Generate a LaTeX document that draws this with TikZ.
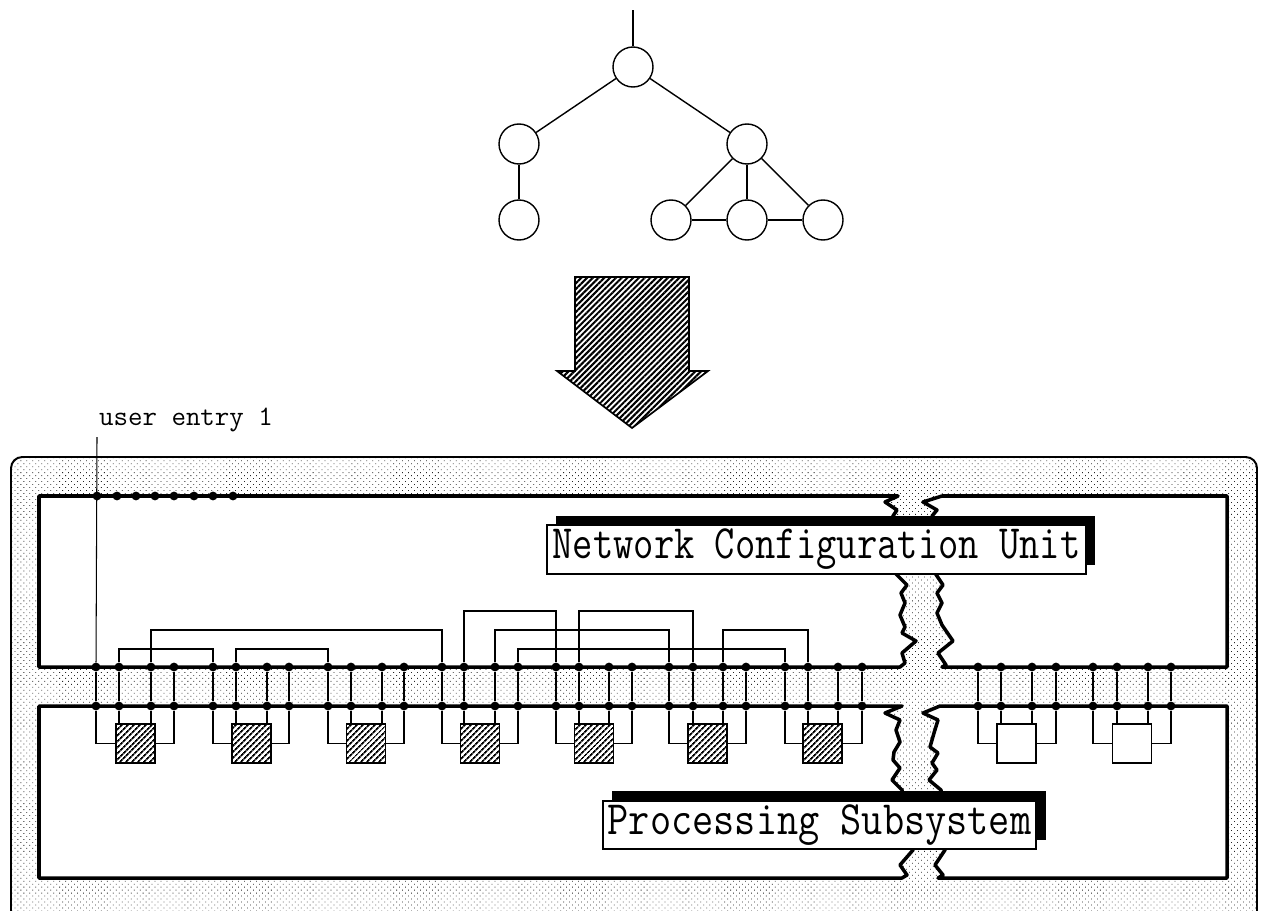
\documentclass[tikz,border=0pt]{standalone}
\usetikzlibrary{patterns.meta}
\tikzset{
  x=0.05cm,y=-0.05cm,
  treenode/.style={circle,draw,line width=2pt,fill=white,minimum size=2cm,inner sep=0pt},
  edge/.style={line width=2pt},
  wire/.style={line width=2pt},
  thin wire/.style={line width=1.5pt},
  bus/.style={line width=5pt,line join=round},
  pin/.style={circle,fill=black,minimum size=0.44cm,inner sep=0pt},
  chiphatch/.style={draw,line width=2.6pt,minimum size=1.95cm,inner sep=0pt,fill=white,pattern={Lines[angle=45,distance=6.4pt,line width=3.2pt]}},
  chipwhite/.style={draw,line width=2.6pt,minimum size=1.95cm,inner sep=0pt,fill=white},
  title/.style={draw,line width=2pt,fill=white,inner sep=0pt,font=\ttfamily},
  stipple/.style={pattern={Dots[radius=0.8pt,distance=6pt,angle=45]},pattern color=black!85},
}
\begin{document}
\begin{tikzpicture}
\useasboundingbox (0,0) rectangle (1262,911);
\clip (0,0) rectangle (1262,911);
% outer frame
\fill[white] (0,0) rectangle (1262,911);
\path[stipple] (11,930) [rounded corners=16pt] -- (11,457) -- (1257,457) [sharp corners] -- (1257,930) -- cycle;
\draw[line width=2.8pt,rounded corners=16pt] (11,930) -- (11,457) -- (1257,457) -- (1257,930);
% panels
\path[fill=white,draw=black,bus]
  (39,667) -- (39,496) -- (898,496) -- (885,502) -- (897,510) -- (893,516) -- (880,560) -- (895,573)
  -- (907,585) -- (901,593) -- (905,603) -- (900,615) -- (905,627) -- (902,633) -- (916,641) -- (902,653) -- (905,663) -- (900,667) -- cycle;
\path[fill=white,draw=black,bus]
  (942,667) -- (946,665) -- (938,653) -- (953,641) -- (942,625) -- (937,613) -- (942,603) -- (937,593) -- (943,585) -- (935,573) -- (950,560)
  -- (932,516) -- (937,510) -- (923,502) -- (942,496) -- (1227,496) -- (1227,667) -- cycle;
\path[fill=white,draw=black,bus]
  (39,706) -- (902,706) -- (885,713) -- (900,720) -- (896,730) -- (900,742) -- (894,752) -- (893,760) -- (900,768) -- (892,780) -- (902,790)
  -- (913,850) -- (900,865) -- (907,875) -- (902,878) -- (39,878) -- cycle;
\path[fill=white,draw=black,bus]
  (1227,706) -- (940,706) -- (923,713) -- (938,720) -- (934,733) -- (930,747) -- (938,753) -- (932,763) -- (937,770) -- (929,780) -- (941,790)
  -- (945,850) -- (935,865) -- (943,875) -- (938,878) -- (1227,878) -- cycle;
% pins and chips
\foreach \g/\a/\b/\c/\d/\cx in {1/96/119/151/174/135.5,2/213/236/267/289/251.5,3/328/351/382/404/366,4/442/464/495/518/480,5/556/579/609/632/594,6/669/693/723/746/707.5,7/785/808/838/862/822.5,8/978/1001/1032/1056/1016.5,9/1093/1117/1148/1171/1132}{
  \foreach \n/\x in {a/\a,b/\b,c/\c,d/\d}{
    \node[pin] (t\g\n) at (\x,667) {};
    \node[pin] (b\g\n) at (\x,706) {};
    \draw[wire] (t\g\n) -- (b\g\n);
  }
  \ifnum\g<8
    \node[chiphatch] (c\g) at (\cx,743.5) {};
  \else
    \node[chipwhite] (c\g) at (\cx,743.5) {};
  \fi
  \draw[wire] (b\g a) |- (c\g.west);
  \draw[wire] (b\g d) |- (c\g.east);
  \draw[wire] (b\g b) -- (b\g b |- c\g.north);
  \draw[wire] (b\g c) -- (b\g c |- c\g.north);
}
% rails
\coordinate (rA) at (0,611);
\coordinate (rB) at (0,630);
\coordinate (rC) at (0,649);
\foreach \p/\q/\r in {t1b/t2a/rC,t2b/t3a/rC,t1c/t4a/rB,t4b/t5a/rA,t5b/t6b/rA,t4c/t6a/rB,t4d/t7a/rC,t6c/t7b/rB}{
  \draw[wire] (\p) -- (\p |- \r) -- (\q |- \r) -- (\q);
}
% user entry
\node[pin] (d1) at (97,496) {};
\foreach \i/\x in {2/117,3/136,4/155,5/174,6/194,7/213,8/233}{\node[pin] (d\i) at (\x,496) {};}
\coordinate (entry) at (97,437);
\draw[thin wire] (entry) -- (t1a);
\node[anchor=base west,inner sep=0pt,font=\ttfamily\fontsize{40}{44}\selectfont] (ue) at (99,425) {user entry 1};
% labels
\fill (556,516) rectangle (1095,565);
\node[title,minimum width=26.95cm,minimum height=2.45cm] (net) at (816.5,549.5) {\raisebox{-4pt}{\fontsize{68}{72}\selectfont\scalebox{0.825}[1]{Network Configuration Unit}}};
\fill (612,791) rectangle (1046,840);
\node[title,minimum width=21.65cm,minimum height=2.4cm] (proc) at (819.5,825) {\raisebox{-3pt}{\fontsize{68}{72}\selectfont\scalebox{0.86}[1]{Processing Subsystem}}};
% tree
\node[treenode] (n0) at (633,67) {};
\node[treenode] (n1) at (519,144) {};
\node[treenode] (n2) at (747,144) {};
\node[treenode] (n3) at (519,220) {};
\node[treenode] (n4) at (671,220) {};
\node[treenode] (n5) at (747,220) {};
\node[treenode] (n6) at (823,220) {};
\coordinate (stub) at (633,10);
\draw[edge] (stub) -- (n0);
\draw[edge] (n0) -- (n1);
\draw[edge] (n0) -- (n2);
\draw[edge] (n1) -- (n3);
\draw[edge] (n2) -- (n4);
\draw[edge] (n2) -- (n5);
\draw[edge] (n2) -- (n6);
\draw[edge] (n4) -- (n5);
\draw[edge] (n5) -- (n6);
% big arrow
\draw[line width=2.4pt,line join=miter,fill=white,pattern={Lines[angle=45,distance=5.8pt,line width=2.9pt]}]
  (575,277) -- (689,277) -- (689,371) -- (708,371) -- (632,428) -- (557,371) -- (575,371) -- cycle;
\end{tikzpicture}
\end{document}
